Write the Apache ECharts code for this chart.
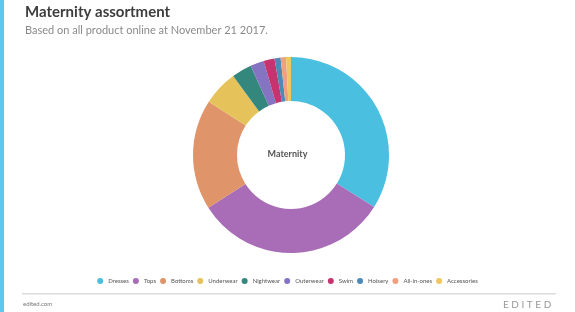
<!DOCTYPE html>
<html>
<head>
<meta charset="utf-8">
<script src="https://cdn.jsdelivr.net/npm/echarts@6/dist/echarts.min.js"></script>
<style>
html,body{margin:0;padding:0;background:#fff;}
#chart{width:575px;height:312px;}
</style>
</head>
<body>
<div id="chart"></div>
<script>
var categories = ['Dresses','Tops','Bottoms','Underwear','Nightwear','Outerwear','Swim','Hoisery','All-in-ones','Accessories'];
var shares = [33.9, 32.1, 18.2, 5.8, 3.3, 2.25, 1.8, 1.0, 0.9, 0.8];
var colors = ['#4BBFE0','#A96DB7','#E0946A','#E5C25A','#33877D','#8474C1','#C6336E','#4F89B5','#EFA07E','#F0C75E'];

var pieData = [];
for (var i = 0; i < categories.length; i++) {
    pieData.push({name: categories[i], value: shares[i]});
}

var myChart = echarts.init(document.getElementById('chart'));
var option = {
    color: colors,
    animation: false,
    title: {
        text: 'Maternity assortment',
        subtext: 'Based on all product online at November 21 2017.',
        left: 20,
        top: 0,
        itemGap: 5,
        textStyle: {
            fontFamily: 'Lato',
            fontSize: 15,
            fontWeight: 'bold',
            color: '#3d3d3d'
        },
        subtextStyle: {
            fontFamily: 'Lato',
            fontSize: 11,
            color: '#8a8a8a'
        }
    },
    legend: {
        data: categories,
        bottom: 23,
        left: 'center',
        icon: 'circle',
        itemWidth: 6,
        itemHeight: 6,
        itemGap: 4,
        textStyle: {
            fontFamily: 'Lato',
            fontSize: 6,
            color: '#555'
        }
    },
    graphic: [
        {type: 'rect', left: 0, top: 0, shape: {width: 4, height: 312}, style: {fill: '#5CC8F0'}},
        {type: 'rect', left: 22, top: 293, shape: {width: 534, height: 1.5}, style: {fill: '#dcdcdc'}},
        {type: 'text', left: 23, top: 301, style: {text: 'edited.com', font: '6px Lato', fill: '#777'}},
        {type: 'text', left: 503, top: 300, style: {text: 'E D I T E D', font: '10px Lato', fill: '#999'}},
        {type: 'text', left: 'center', top: 150, style: {text: 'Maternity', font: 'bold 9px Lato', fill: '#555'}}
    ],
    series: [{
        type: 'pie',
        center: [291, 155],
        radius: [54, 98],
        startAngle: 90,
        clockwise: true,
        label: {show: false},
        labelLine: {show: false},
        emphasis: {disabled: true},
        data: pieData
    }]
};
myChart.setOption(option);
</script>
</body>
</html>
